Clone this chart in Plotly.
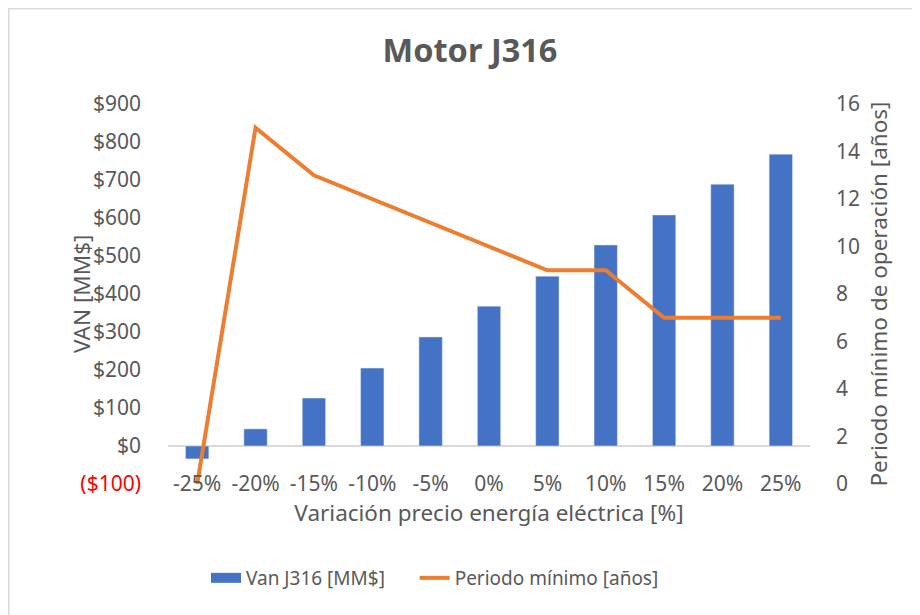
import plotly.graph_objects as go

categories = ["-25%", "-20%", "-15%", "-10%", "-5%", "0%", "5%", "10%", "15%", "20%", "25%"]
van_values = [-34, 45, 126, 205, 287, 368, 447, 529, 608, 689, 768]
periodo_values = [0, 15, 13, 12, 11, 10, 9, 9, 7, 7, 7]

left_tickvals = [-100, 0, 100, 200, 300, 400, 500, 600, 700, 800, 900]
left_ticktext = ["<span style='color:#FF0000'>($100)</span>", "$0", "$100", "$200", "$300",
                 "$400", "$500", "$600", "$700", "$800", "$900"]
right_tickvals = [0, 2, 4, 6, 8, 10, 12, 14, 16]

gray = "#595959"
blue = "#4472C4"
orange = "#ED7D31"
font_family = "Noto Sans"

fig = go.Figure()

fig.add_trace(go.Bar(
    x=categories, y=van_values, name="Van J316 [MM$]",
    marker=dict(color=blue), yaxis="y", showlegend=False
))
# legend-only entry so the bar key is drawn as a wide block like the original
fig.add_trace(go.Scatter(
    x=[None], y=[None], name="Van J316 [MM$]" + "\u00a0" * 5, mode="lines",
    line=dict(color=blue, width=14), yaxis="y"
))
fig.add_trace(go.Scatter(
    x=categories, y=periodo_values, name="Periodo mínimo [años]",
    mode="lines", line=dict(color=orange, width=4), yaxis="y2"
))

# the page body adds an 8px offset, so figure coords = screen coords - 8
W, H = 920, 615
ml, mr, mt, mb = 160, 118, 96, 139
pw, ph = W - ml - mr, H - mt - mb

# outer chart frame (only left/top edges fall inside the picture)
fx0 = (0.75 - ml) / pw
fx1 = (W + 20 - ml) / pw
fy0 = (H - (H + 20) - mb) / ph
fy1 = (H - 0.75 - mb) / ph

fig.update_layout(
    width=W, height=H,
    margin=dict(l=ml, r=mr, t=mt, b=mb, autoexpand=False),
    paper_bgcolor="white", plot_bgcolor="white",
    font=dict(family=font_family, color=gray, size=21),
    title=dict(text="<b>Motor J316</b>", x=462 / W, xanchor="center",
               y=1 - 43 / H, yanchor="middle", font=dict(size=32.5, color=gray)),
    bargap=0.6,
    showlegend=True,
    legend=dict(orientation="h", x=(427 - ml) / pw, xanchor="center",
                y=-(570 - 476) / ph, yanchor="middle", font=dict(size=19, color=gray),
                traceorder="normal"),
    xaxis=dict(
        anchor="free", position=(476 - 461) / ph,
        showline=False, showgrid=False, ticks="", automargin=True,
        tickfont=dict(size=21, color=gray),
        title=dict(text="Variación precio energía eléctrica [%]", font=dict(size=22.5, color=gray), standoff=2),
    ),
    yaxis=dict(
        range=[-100, 900], tickvals=left_tickvals, ticktext=left_ticktext,
        showgrid=False, zeroline=True, zerolinecolor="#D9D9D9", zerolinewidth=1.5,
        tickfont=dict(size=21, color=gray), ticks="", ticklabelstandoff=26,
    ),
    yaxis2=dict(
        range=[0, 16], tickvals=right_tickvals, overlaying="y", side="right",
        showgrid=False, zeroline=False, ticks="", ticklabelstandoff=25, automargin=True,
        tickfont=dict(size=21, color=gray),
        title=dict(text="Periodo mínimo de operación [años]", font=dict(size=22.5, color=gray), standoff=12),
    ),
    annotations=[dict(text="VAN [MM$]", textangle=-90, showarrow=False,
                      xref="paper", yref="paper",
                      x=(73 - ml) / pw, y=(H - 286 - mb) / ph,
                      xanchor="center", yanchor="middle",
                      font=dict(size=22.5, color=gray))],
    shapes=[dict(type="rect", xref="paper", yref="paper",
                 x0=fx0, x1=fx1, y0=fy0, y1=fy1,
                 line=dict(color="#D9D9D9", width=1.5), fillcolor="rgba(0,0,0,0)", layer="below")],
)

fig.write_html("out.html")
